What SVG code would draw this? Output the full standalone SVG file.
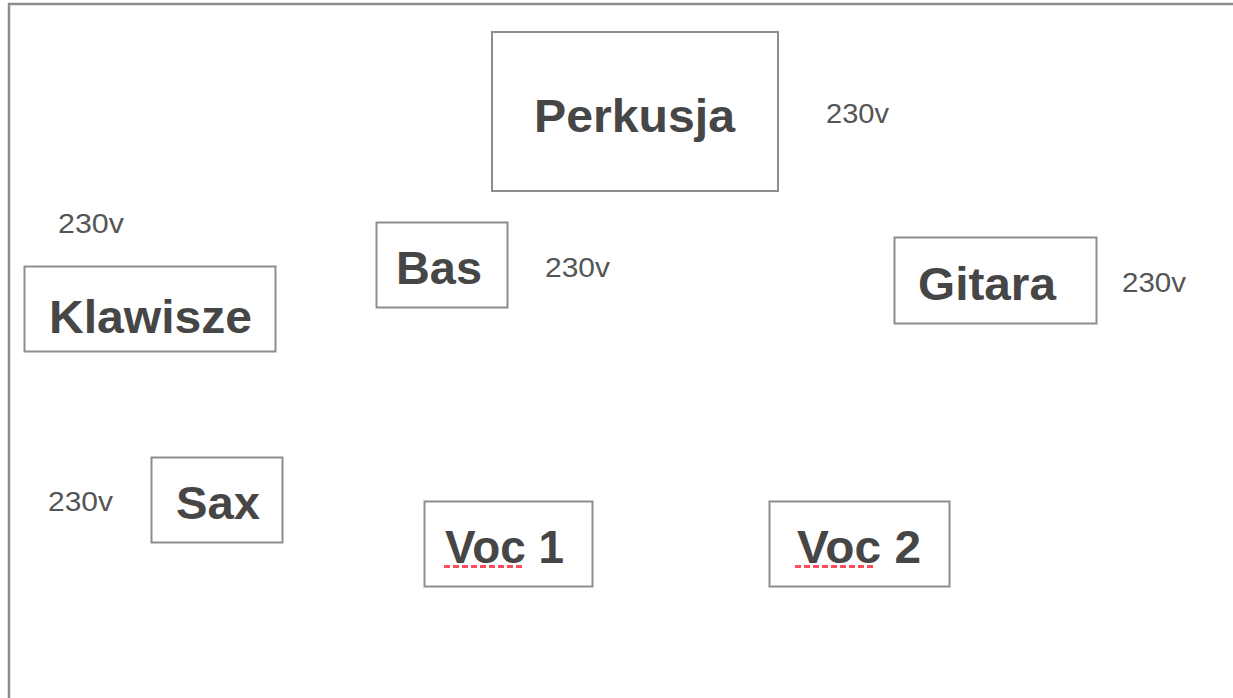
<svg xmlns="http://www.w3.org/2000/svg" width="1233" height="698" viewBox="0 0 1233 698">
<style>
.box{fill:#fff;stroke:#8a8e92;stroke-width:2}
.lbl{font-family:"Liberation Sans",Arial,sans-serif;font-weight:bold;fill:#464646;font-size:46px}
.pw{font-family:"Liberation Sans",Arial,sans-serif;font-weight:normal;fill:#555;font-size:27px}
.sq{stroke:#ff4d5e;stroke-width:3;stroke-dasharray:6 3;fill:none}
</style>
<rect width="1233" height="698" fill="#fff"/>
<path d="M9,698 V4 H1233" fill="none" stroke="#8a8e92" stroke-width="2.5"/>
<g id="connectors"/>
<g id="perkusja">
<rect class="box" x="492" y="32" width="286" height="159"/>
<text class="lbl" x="534" y="132" textLength="201" lengthAdjust="spacingAndGlyphs">Perkusja</text>
</g>
<g id="klawisze">
<rect class="box" x="24.5" y="266.5" width="251" height="85"/>
<text class="lbl" x="49" y="333" textLength="203" lengthAdjust="spacingAndGlyphs">Klawisze</text>
</g>
<g id="bas">
<rect class="box" x="376.5" y="222.5" width="131" height="85"/>
<text class="lbl" x="396" y="284" textLength="86" lengthAdjust="spacingAndGlyphs">Bas</text>
</g>
<g id="gitara">
<rect class="box" x="894.5" y="237.5" width="202" height="86"/>
<text class="lbl" x="918" y="300" textLength="138" lengthAdjust="spacingAndGlyphs">Gitara</text>
</g>
<g id="sax">
<rect class="box" x="151.5" y="457.5" width="131" height="85"/>
<text class="lbl" x="176" y="519" textLength="84" lengthAdjust="spacingAndGlyphs">Sax</text>
</g>
<g id="voc1">
<rect class="box" x="424.5" y="501.5" width="168" height="85"/>
<text class="lbl" x="445" y="563" textLength="119" lengthAdjust="spacingAndGlyphs">Voc 1</text>
<line class="sq" x1="444" y1="566.5" x2="525" y2="566.5"/>
</g>
<g id="voc2">
<rect class="box" x="769.5" y="501.5" width="180" height="85"/>
<text class="lbl" x="797" y="563" textLength="124" lengthAdjust="spacingAndGlyphs">Voc 2</text>
<line class="sq" x1="795" y1="566.5" x2="876" y2="566.5"/>
</g>
<g id="power-labels">
<text class="pw" x="826" y="123" textLength="63" lengthAdjust="spacingAndGlyphs">230v</text>
<text class="pw" x="58" y="233" textLength="66" lengthAdjust="spacingAndGlyphs">230v</text>
<text class="pw" x="545" y="277" textLength="65" lengthAdjust="spacingAndGlyphs">230v</text>
<text class="pw" x="1122" y="292" textLength="64" lengthAdjust="spacingAndGlyphs">230v</text>
<text class="pw" x="48" y="511" textLength="65" lengthAdjust="spacingAndGlyphs">230v</text>
</g>
</svg>
